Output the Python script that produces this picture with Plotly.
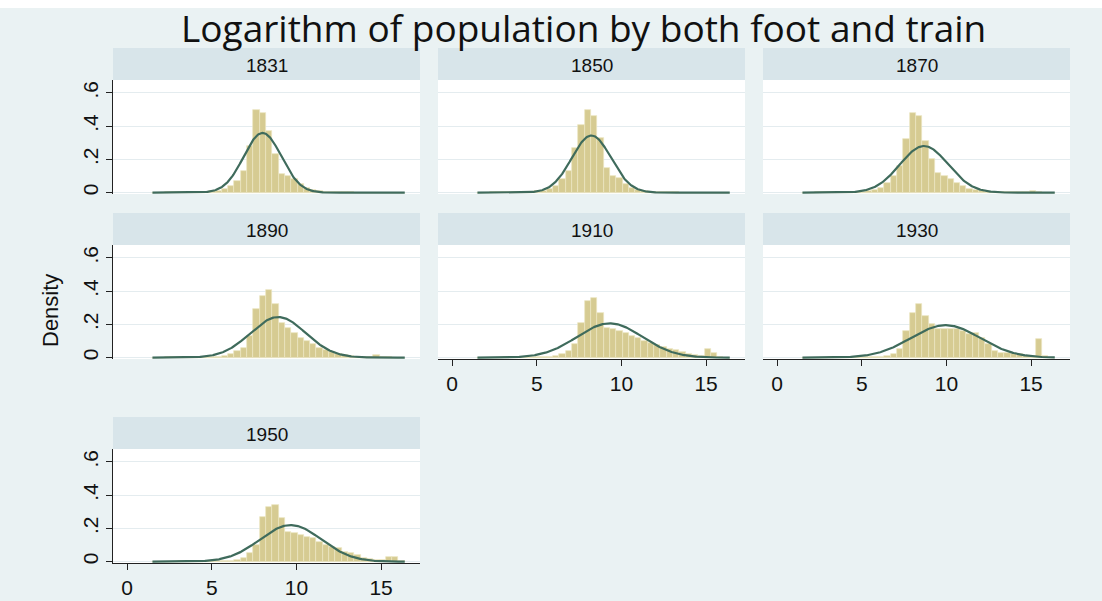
import numpy as np
import plotly.graph_objects as go

# ---------------- data ----------------
years = ["1831", "1850", "1870", "1890", "1910", "1930", "1950"]
bin_start = 1.5
bin_width = 0.3725

dens_1831 = [0, 0, 0.002, 0.002, 0.003, 0.003, 0.004, 0.005, 0.006, 0.008,
             0.012, 0.02, 0.04, 0.07, 0.13, 0.28, 0.50, 0.48, 0.37, 0.23,
             0.11, 0.10, 0.08, 0.05, 0.03, 0.015, 0.01, 0.006, 0.004, 0.003,
             0.002, 0.002, 0.001, 0.001, 0.001, 0, 0, 0, 0, 0]
dens_1850 = [0, 0, 0.002, 0.002, 0.003, 0.003, 0.004, 0.005, 0.006, 0.008,
             0.01, 0.02, 0.04, 0.08, 0.13, 0.27, 0.41, 0.50, 0.46, 0.33,
             0.15, 0.10, 0.09, 0.05, 0.03, 0.015, 0.008, 0.005, 0.004, 0.003,
             0.002, 0.002, 0.001, 0.001, 0.001, 0.001, 0, 0, 0, 0]
dens_1870 = [0, 0, 0.002, 0.002, 0.002, 0.003, 0.003, 0.004, 0.005, 0.006,
             0.008, 0.015, 0.03, 0.06, 0.10, 0.16, 0.32, 0.48, 0.46, 0.31,
             0.20, 0.12, 0.10, 0.085, 0.06, 0.04, 0.025, 0.015, 0.008, 0.006,
             0.005, 0.004, 0.004, 0.004, 0.003, 0.003, 0.01, 0.003, 0, 0]
dens_1890 = [0, 0, 0.002, 0.002, 0.002, 0.003, 0.003, 0.003, 0.004, 0.005,
             0.006, 0.01, 0.02, 0.04, 0.06, 0.13, 0.29, 0.37, 0.41, 0.32,
             0.21, 0.18, 0.15, 0.12, 0.10, 0.085, 0.06, 0.045, 0.035, 0.02,
             0.015, 0.01, 0.006, 0.004, 0.003, 0.015, 0.003, 0.002, 0, 0]
dens_1910 = [0, 0, 0.001, 0.001, 0.002, 0.002, 0.002, 0.003, 0.003, 0.004,
             0.005, 0.006, 0.01, 0.02, 0.04, 0.08, 0.21, 0.34, 0.36, 0.27,
             0.18, 0.17, 0.16, 0.15, 0.13, 0.12, 0.10, 0.09, 0.075, 0.065,
             0.055, 0.045, 0.035, 0.025, 0.015, 0.01, 0.055, 0.03, 0.005, 0]
dens_1930 = [0, 0, 0.001, 0.001, 0.002, 0.002, 0.002, 0.003, 0.003, 0.004,
             0.004, 0.005, 0.006, 0.01, 0.02, 0.05, 0.16, 0.27, 0.32, 0.25,
             0.20, 0.17, 0.17, 0.17, 0.17, 0.16, 0.14, 0.15, 0.12, 0.08,
             0.04, 0.03, 0.03, 0.02, 0.02, 0.01, 0.01, 0.11, 0.01, 0]
dens_1950 = [0, 0, 0.001, 0.001, 0.002, 0.002, 0.002, 0.003, 0.003, 0.004,
             0.004, 0.005, 0.006, 0.01, 0.02, 0.05, 0.10, 0.27, 0.33, 0.34,
             0.26, 0.18, 0.17, 0.16, 0.15, 0.14, 0.12, 0.10, 0.09, 0.08,
             0.06, 0.05, 0.04, 0.025, 0.015, 0.01, 0.01, 0.03, 0.03, 0.005]
densities = [dens_1831, dens_1850, dens_1870, dens_1890, dens_1910, dens_1930, dens_1950]

normal_mean = [8.00, 8.23, 8.68, 8.92, 9.31, 9.95, 9.66]
normal_sd = [1.11, 1.16, 1.42, 1.63, 1.93, 2.04, 1.81]
curve_min, curve_max = 1.5, 16.4

x_ticks = [0, 5, 10, 15]
y_ticks = [0, 0.2, 0.4, 0.6]
y_tick_text = ["0", ".2", ".4", ".6"]
title_text = "Logarithm of population by both foot and train"
y_title = "Density"

# ---------------- styling / geometry ----------------
W, H = 1102, 601
BG = "#EAF2F3"
STRIP = "#D8E5EA"
GRID = "#E4ECEF"
BAR = "#D6CB92"
BAR_EDGE = "#ECE5C3"
LINE = "#3F6B5C"
NARROW = "Liberation Sans Narrow, Arial Narrow, Liberation Sans, Arial, sans-serif"

col_x0 = [113, 438, 763]
panel_w = 307
row_top = [80, 245, 449]
panel_h = 114
strip_h = 32
x_range = [-0.83, 17.3]
y_range = [-0.008, 0.678]

fig = go.Figure()
layout = dict(
    width=W, height=H, autosize=False,
    margin=dict(l=0, r=0, t=0, b=0),
    paper_bgcolor=BG, plot_bgcolor="white",
    showlegend=False, bargap=0,
)
shapes = []
annotations = []

edges_n = len(dens_1831)
centers = [bin_start + bin_width * (i + 0.5) for i in range(edges_n)]

for k, yr in enumerate(years):
    r, c = divmod(k, 3)
    idx = "" if k == 0 else str(k + 1)
    xa, ya = "x" + idx, "y" + idx
    x0 = col_x0[c]
    top = row_top[r]
    xd = [x0 / W, (x0 + panel_w) / W]
    yd = [1 - (top + panel_h) / H, 1 - top / H]

    fig.add_trace(go.Bar(
        x=centers, y=densities[k], width=bin_width,
        marker=dict(color=BAR, line=dict(color=BAR_EDGE, width=0.7)),
        xaxis=xa, yaxis=ya, hoverinfo="skip"))
    xs = np.linspace(curve_min, curve_max, 400)
    ys = np.exp(-0.5 * ((xs - normal_mean[k]) / normal_sd[k]) ** 2) / (normal_sd[k] * np.sqrt(2 * np.pi))
    fig.add_trace(go.Scatter(
        x=xs, y=ys, mode="lines", line=dict(color=LINE, width=2.2),
        xaxis=xa, yaxis=ya, hoverinfo="skip"))

    show_x = k >= 4
    show_y = c == 0
    layout["xaxis" + idx] = dict(
        domain=xd, range=x_range, anchor=ya,
        tickvals=x_ticks, showticklabels=show_x,
        ticks="outside" if show_x else "", ticklen=6, tickwidth=1.2, tickcolor="#222",
        showline=show_x, linecolor="#222", linewidth=1.2,
        showgrid=False, zeroline=False,
        tickfont=dict(family=NARROW, size=21, color="#111"))
    layout["yaxis" + idx] = dict(
        domain=yd, range=y_range, anchor=xa,
        tickvals=y_ticks, ticktext=y_tick_text, showticklabels=show_y,
        tickangle=-90,
        ticks="outside" if show_y else "", ticklen=6, tickwidth=1.2, tickcolor="#222",
        showline=show_y, linecolor="#222", linewidth=1.2,
        showgrid=True, gridcolor=GRID, gridwidth=1, zeroline=False,
        tickfont=dict(family=NARROW, size=21, color="#111"))

    # strip header
    shapes.append(dict(type="rect", xref="paper", yref="paper", layer="below",
                       x0=xd[0], x1=xd[1], y0=1 - top / H, y1=1 - (top - strip_h) / H,
                       fillcolor=STRIP, line=dict(width=0)))
    annotations.append(dict(text=yr, xref="paper", yref="paper", showarrow=False,
                            x=(xd[0] + xd[1]) / 2, y=1 - (top - strip_h / 2 + 1) / H,
                            xanchor="center", yanchor="middle",
                            font=dict(family=NARROW, size=19, color="#111")))

# white band at top of the picture
shapes.append(dict(type="rect", xref="paper", yref="paper", layer="below",
                   x0=0, x1=1, y0=1 - 8 / H, y1=1, fillcolor="white", line=dict(width=0)))

annotations.append(dict(text=title_text, xref="paper", yref="paper", showarrow=False,
                        x=583 / W, y=1 - 28 / H, xanchor="center", yanchor="middle",
                        font=dict(family="Open Sans, Noto Sans, sans-serif", size=37, color="#111")))
annotations.append(dict(text=y_title, xref="paper", yref="paper", showarrow=False,
                        x=50 / W, y=1 - 311 / H, xanchor="center", yanchor="middle",
                        textangle=-90,
                        font=dict(family=NARROW, size=22, color="#111")))

layout["shapes"] = shapes
layout["annotations"] = annotations
fig.update_layout(**layout)

fig.write_html("out.html", config={"displayModeBar": False},
               post_script="document.body.style.margin='0';")
